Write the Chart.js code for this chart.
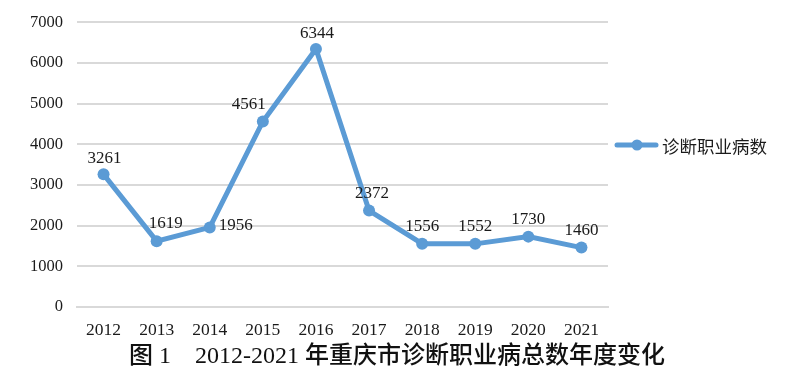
<!DOCTYPE html>
<html>
<head>
<meta charset="utf-8">
<script src="https://cdn.jsdelivr.net/npm/chart.js@4"></script>
<style>
    html, body { margin: 0; padding: 0; background: #fff; }
    #wrap { width: 800px; height: 374px; position: relative; }
</style>
</head>
<body>
<div id="wrap"><canvas id="chart"></canvas></div>
<script>
const years = ['2012', '2013', '2014', '2015', '2016', '2017', '2018', '2019', '2020', '2021'];
const cases = [3261, 1619, 1956, 4561, 6344, 2372, 1556, 1552, 1730, 1460];
const seriesName = '诊断职业病数';
const caption = '图 1\u30002012-2021 年重庆市诊断职业病总数年度变化';

const blue = '#5b9bd5';
const textFont = '"Liberation Serif", "Noto Sans CJK SC", serif';

// where each value label sits relative to its point (dx, dy)
const labelShift = [[1, -16], [9, -18], [26, -2], [-14, -17], [1, -15], [3, -17], [0, -17], [0, -17], [0, -17], [0, -17]];

const extras = {
    id: 'extras',
    afterDatasetsDraw(chart) {
        const ctx = chart.ctx;
        const meta = chart.getDatasetMeta(0);
        ctx.save();
        ctx.fillStyle = '#1a1a1a';
        ctx.font = '17px ' + textFont;
        ctx.textAlign = 'center';
        ctx.textBaseline = 'middle';
        meta.data.forEach((pt, i) => {
            const s = labelShift[i];
            ctx.fillText(String(cases[i]), pt.x + s[0], pt.y + s[1]);
        });

        // legend
        const ly = 145;
        ctx.strokeStyle = blue;
        ctx.lineWidth = 5;
        ctx.lineCap = 'round';
        ctx.beginPath();
        ctx.moveTo(617, ly);
        ctx.lineTo(656, ly);
        ctx.stroke();
        ctx.fillStyle = blue;
        ctx.beginPath();
        ctx.arc(637, ly, 5.5, 0, Math.PI * 2);
        ctx.fill();
        ctx.fillStyle = '#1a1a1a';
        ctx.font = '17.5px "Noto Sans CJK SC", sans-serif';
        ctx.textAlign = 'left';
        ctx.fillText(seriesName, 662, ly + 1);

        // caption
        ctx.font = '500 24px ' + textFont;
        ctx.textAlign = 'center';
        ctx.fillStyle = '#111';
        ctx.fillText(caption, 397, 357);
        ctx.restore();
    }
};

new Chart(document.getElementById('chart'), {
    type: 'line',
    data: {
        labels: years,
        datasets: [
            {
                label: seriesName,
                data: cases,
                borderColor: blue,
                backgroundColor: blue,
                borderWidth: 5,
                tension: 0,
                pointRadius: 6,
                pointHoverRadius: 6,
                pointBackgroundColor: blue,
                pointBorderWidth: 0
            }
        ]
    },
    options: {
        responsive: true,
        maintainAspectRatio: false,
        animation: false,
        layout: {
            padding: {left: 0, right: 192, top: 3, bottom: 37}
        },
        plugins: {
            legend: {display: false},
            tooltip: {enabled: false}
        },
        scales: {
            x: {
                offset: true,
                grid: {display: false},
                border: {color: '#d9d9d9', width: 2},
                ticks: {
                    color: '#1a1a1a',
                    font: {family: textFont, size: 17.5},
                    padding: 5,
                    maxRotation: 0
                },
                afterFit: scale => { scale.height = 30; }
            },
            y: {
                min: 0,
                max: 7000,
                ticks: {
                    stepSize: 1000,
                    color: '#1a1a1a',
                    font: {family: textFont, size: 16.5, lineHeight: 1},
                    padding: 14,
                    callback: v => String(v)
                },
                grid: {color: '#d9d9d9', lineWidth: 2, drawTicks: false},
                border: {display: false},
                afterFit: scale => { scale.width = 77; }
            }
        }
    },
    plugins: [extras]
});
</script>
</body>
</html>
